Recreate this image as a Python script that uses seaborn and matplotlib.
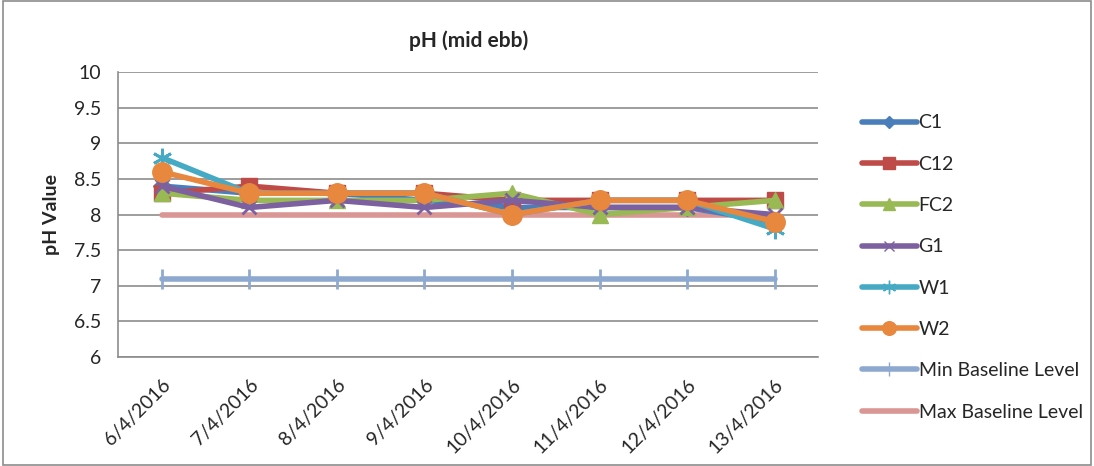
import numpy as np
import pandas as pd
import seaborn as sns
import matplotlib
matplotlib.use("Agg")
import matplotlib.pyplot as plt
from matplotlib.lines import Line2D
from matplotlib.patches import Rectangle

dates = ["6/4/2016", "7/4/2016", "8/4/2016", "9/4/2016", "10/4/2016", "11/4/2016", "12/4/2016", "13/4/2016"]
c1 = [8.4, 8.3, 8.3, 8.2, 8.1, 8.1, 8.1, 7.9]
c12 = [8.3, 8.4, 8.3, 8.3, 8.2, 8.2, 8.2, 8.2]
fc2 = [8.3, 8.2, 8.2, 8.2, 8.3, 8.0, 8.1, 8.2]
g1 = [8.4, 8.1, 8.2, 8.1, 8.2, 8.1, 8.1, 8.0]
w1 = [8.8, 8.3, 8.3, 8.3, 8.0, 8.2, 8.2, 7.8]
w2 = [8.6, 8.3, 8.3, 8.3, 8.0, 8.2, 8.2, 7.9]
min_base = [7.1] * 8
max_base = [8.0] * 8

series = {
    "C1": c1, "C12": c12, "FC2": fc2, "G1": g1, "W1": w1, "W2": w2,
    "Min Baseline Level": min_base, "Max Baseline Level": max_base,
}
colors = {
    "C1": "#4A7EBB", "C12": "#BE4B48", "FC2": "#98B954", "G1": "#7D60A0",
    "W1": "#46AAC5", "W2": "#E8873E", "Min Baseline Level": "#8EA9CF",
    "Max Baseline Level": "#D99694",
}
markers = {
    "C1": "D", "C12": "s", "FC2": "^", "G1": "x", "W1": (6, 2, 0), "W2": "o",
    "Min Baseline Level": "|", "Max Baseline Level": "",
}
msizes = {"C1": 9, "C12": 12, "FC2": 12, "G1": 10, "W1": 14, "W2": 14,
          "Min Baseline Level": 14, "Max Baseline Level": 0}

rows = []
for name, vals in series.items():
    for i, (d, v) in enumerate(zip(dates, vals)):
        rows.append({"idx": i, "date": d, "value": v, "series": name})
df = pd.DataFrame(rows)

sns.set_theme(style="white")
plt.rcParams['font.family'] = ['Lato', 'DejaVu Sans']

fig = plt.figure(figsize=(10.94, 4.66), dpi=100)
ax = fig.add_axes([0.108, 0.234, 0.640, 0.611])

draw_order = ["Min Baseline Level", "Max Baseline Level", "C1", "C12", "FC2", "G1", "W1", "W2"]
for name in draw_order:
    sub = df[df["series"] == name]
    m = markers[name]
    sns.lineplot(data=sub, x="idx", y="value", ax=ax, color=colors[name],
                 linewidth=4, marker=m if m else None, markersize=msizes[name],
                 markeredgecolor=colors[name], markeredgewidth=2 if m in ("x", "|") or isinstance(m, tuple) else 1,
                 solid_capstyle="round", legend=False)

ax.set_xlim(-0.5, 7.5)
ax.set_ylim(6, 10)
ax.set_yticks(np.arange(6, 10.01, 0.5))
ax.set_yticklabels(["6", "6.5", "7", "7.5", "8", "8.5", "9", "9.5", "10"], fontsize=14)
ax.set_xticks(range(len(dates)))
ax.set_xticklabels(dates, rotation=45, ha="right", rotation_mode="anchor", fontsize=14)
ax.tick_params(axis="x", pad=8)
ax.tick_params(axis="y", pad=6)
ax.yaxis.grid(True, color="#8C8C8C", linewidth=1.2)
ax.set_axisbelow(True)
for s in ["top", "right"]:
    ax.spines[s].set_visible(False)
for s in ["left", "bottom"]:
    ax.spines[s].set_color("#8C8C8C")
    ax.spines[s].set_linewidth(1.2)
ax.set_xlabel("")
ax.set_ylabel("pH Value", fontsize=14, fontweight="bold", labelpad=10)
ax.set_title("pH (mid ebb)", fontsize=15, fontweight="bold", pad=18)

handles = []
for name in series:
    m = markers[name]
    handles.append(Line2D([0], [0], color=colors[name], linewidth=4,
                          marker=m if m else None, markersize=msizes[name] * 0.7,
                          markeredgecolor=colors[name], label=name))
fig.legend(handles=handles, loc="center left", bbox_to_anchor=(0.781, 0.426),
           frameon=False, fontsize=14, handlelength=2.8, handletextpad=0.1,
           labelspacing=1.25, borderaxespad=0)

fig.patches.append(Rectangle((0.003, 0.003), 0.994, 0.994, transform=fig.transFigure,
                             fill=False, edgecolor="#8C8C8C", linewidth=1.2))

fig.savefig("out.png", dpi=100)
